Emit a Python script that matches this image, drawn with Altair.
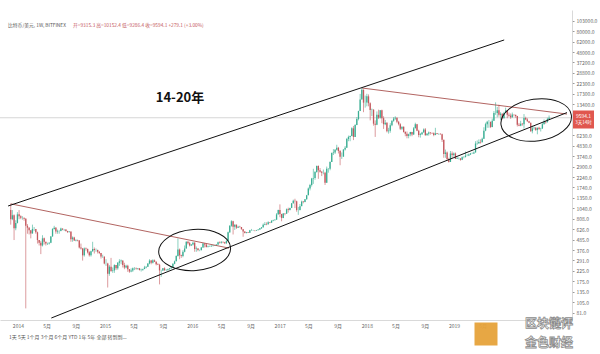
import altair as alt
import pandas as pd

# ---------------- weekly BTC/USD candles (Bitfinex) ----------------
first_open = 1000
close_2013 = [800, 880, 640, 730, 900]
high_2013 = [1165, 1000, 900, 780, 950]
low_2013 = [700, 780, 480, 610, 720]

close_2014 = [860, 830, 830, 810, 680, 650, 610, 565, 630, 630, 580, 480, 450,
              420, 500, 460, 440, 440, 450, 525, 630, 650, 590, 600, 600, 635,
              620, 620, 600, 585, 590, 490, 510, 475, 480, 475, 400, 390, 330,
              390, 385, 355, 330, 365, 385, 375, 375, 360, 350, 320, 320, 270]
high_2014 = [1000, 880, 860, 830, 820, 710, 660, 600, 700, 660, 630, 590, 480,
             470, 540, 510, 460, 450, 455, 530, 640, 680, 660, 620, 610, 650,
             640, 630, 625, 600, 595, 590, 525, 520, 490, 485, 480, 440, 395,
             400, 400, 390, 365, 370, 460, 400, 390, 380, 365, 350, 335, 320]
low_2014 = [800, 800, 790, 770, 90, 560, 550, 500, 560, 600, 560, 440, 420,
            340, 410, 430, 420, 425, 430, 445, 520, 620, 560, 560, 560, 595,
            610, 600, 590, 570, 575, 460, 460, 470, 465, 465, 390, 380, 290,
            320, 370, 345, 320, 320, 360, 345, 360, 345, 340, 305, 310, 265]

close_2015 = [270, 210, 250, 225, 228, 260, 240, 275, 285, 290, 260, 245, 255,
              235, 222, 228, 240, 240, 237, 240, 230, 232, 236, 245, 250, 270,
              290, 275, 292, 282, 265, 262, 228, 228, 240, 230, 231, 234, 240,
              245, 268, 285, 325, 380, 330, 325, 360, 390, 460, 445, 420, 430]
high_2015 = [300, 275, 260, 310, 245, 265, 260, 280, 300, 298, 290, 275, 262,
             262, 236, 240, 245, 247, 245, 242, 242, 238, 238, 255, 252, 272,
             300, 295, 300, 298, 285, 272, 268, 232, 242, 246, 236, 238, 242,
             248, 272, 290, 330, 500, 390, 335, 375, 420, 465, 470, 460, 435]
low_2015 = [255, 150, 200, 220, 215, 215, 230, 232, 255, 265, 245, 235, 240,
            220, 215, 218, 220, 230, 232, 232, 228, 222, 226, 235, 240, 248,
            265, 265, 270, 280, 258, 260, 162, 195, 225, 225, 225, 226, 234,
            237, 245, 265, 285, 320, 300, 310, 315, 355, 390, 430, 410, 415]

close_2016 = [450, 385, 390, 375, 375, 400, 440, 430, 405, 410, 410, 418, 420,
              420, 430, 455, 450, 460, 455, 445, 470, 580, 680, 760, 665, 700,
              650, 665, 660, 625, 590, 570, 580, 575, 610, 610, 610, 605, 612,
              620, 640, 655, 700, 710, 705, 740, 735, 770, 780, 790, 900, 1000]
high_2016 = [460, 455, 410, 395, 380, 405, 445, 440, 440, 420, 420, 420, 425,
             425, 432, 462, 465, 465, 460, 458, 480, 590, 690, 780, 770, 705,
             700, 680, 680, 660, 630, 595, 585, 585, 615, 630, 615, 610, 615,
             625, 645, 660, 720, 745, 740, 760, 745, 780, 790, 800, 930, 1010]
low_2016 = [420, 360, 360, 365, 365, 370, 395, 400, 400, 400, 405, 410, 410,
            415, 420, 425, 440, 440, 445, 435, 435, 520, 570, 665, 550, 615,
            630, 645, 650, 620, 520, 565, 565, 570, 570, 600, 600, 595, 600,
            605, 615, 630, 650, 690, 690, 700, 725, 730, 760, 775, 790, 890]

close_2017 = [910, 825, 920, 915, 1020, 1000, 1055, 1180, 1260, 1240, 1000, 1000, 1100,
              1230, 1220, 1300, 1440, 1700, 1850, 2170, 2200, 2540, 2950, 2650, 2550, 2500,
              2500, 1950, 2750, 2750, 3250, 4050, 4100, 4380, 4600, 4250, 3700, 3700, 4400,
              4600, 5700, 6000, 6150, 7400, 6000, 8050, 9300, 11300, 15000, 19100, 13900, 13900]
high_2017 = [1150, 910, 930, 930, 1040, 1060, 1060, 1190, 1290, 1320, 1260, 1080, 1160,
             1260, 1240, 1310, 1450, 1740, 1900, 2200, 2750, 2600, 2980, 2980, 2800, 2600,
             2700, 2550, 2900, 2800, 3300, 4100, 4450, 4450, 4950, 4700, 4350, 4100, 4450,
             4800, 5850, 6200, 6200, 7600, 7850, 8200, 9750, 11400, 17200, 19891, 19000, 16500]
low_2017 = [840, 760, 820, 880, 910, 940, 990, 1050, 1170, 1050, 960, 890, 990,
            1120, 1180, 1210, 1290, 1440, 1620, 1780, 1900, 2100, 2500, 2150, 2500, 2300,
            2400, 1850, 2250, 2500, 2650, 3300, 3850, 3950, 4300, 4000, 3000, 3500, 3700,
            4300, 4750, 5400, 5400, 6100, 5550, 6300, 8000, 9000, 11400, 15000, 11000, 12300]

close_2018 = [16200, 13700, 11600, 11700, 8300, 8100, 10300, 9600, 11500, 9500, 8200, 8500, 6900,
              7000, 8000, 8900, 9400, 9600, 8700, 8200, 7350, 7700, 6750, 6500, 6150, 6400,
              6750, 6350, 7400, 8200, 7000, 6300, 6400, 6700, 7200, 6250, 6500, 6700, 6600,
              6550, 6300, 6550, 6450, 6450, 6400, 5600, 3950, 4100, 3500, 3250, 4000, 3850, 4000]
high_2018 = [17250, 17000, 14000, 12000, 11800, 9000, 11200, 11700, 11600, 11700, 9950, 9100, 8600,
             7500, 8400, 9000, 9750, 9950, 9650, 8900, 8400, 7750, 7750, 6900, 6850, 6500,
             6800, 6800, 7650, 8500, 8250, 7150, 6600, 6800, 7400, 7450, 6600, 6850, 6700,
             6700, 6700, 7500, 6600, 6550, 6600, 6500, 5600, 4400, 4200, 3600, 4250, 4200, 4100]
low_2018 = [12700, 12700, 9000, 10000, 7900, 6000, 8000, 9300, 9400, 8400, 7300, 8000, 6700,
            6500, 6650, 7800, 8700, 9100, 8400, 7950, 7100, 7100, 6700, 6100, 5800, 5800,
            6100, 6100, 6300, 7400, 6900, 5950, 5900, 6300, 6700, 6200, 6200, 6200, 6350,
            6450, 6100, 6250, 6400, 6300, 6350, 5300, 3600, 3600, 3350, 3200, 3250, 3600, 3700]

close_2019 = [3500, 3550, 3550, 3420, 3650, 3650, 3800, 3800, 3900, 4000, 4000, 4100,
              5100, 5150, 5300, 5250, 5750, 7000, 8200, 8700, 8700, 7650, 8900, 10800, 10800,
              11500, 10300, 10600, 9500, 10800, 11500, 10300, 10100, 9700, 10400, 10300, 10000,
              8100, 7900, 8300, 8200, 9550, 9200, 8800, 8500, 6900, 7400, 7500, 7100, 7500, 7300, 7350]
high_2019 = [4100, 3700, 3650, 3550, 3720, 3750, 4200, 3950, 4000, 4050, 4100, 4200,
             5400, 5500, 5650, 5650, 5900, 7600, 8500, 8900, 9100, 8200, 9400, 11300, 14000,
             12500, 13200, 11000, 10700, 11100, 12300, 11500, 10900, 10650, 10900, 10400, 10350,
             10050, 8450, 8900, 8450, 10500, 9850, 9500, 8900, 8500, 7900, 7750, 7650, 7550, 7700, 7500]
low_2019 = [3500, 3500, 3450, 3350, 3400, 3550, 3650, 3750, 3750, 3850, 3950, 3950,
            4150, 4950, 5050, 5100, 5250, 5700, 6900, 7500, 7500, 7450, 7600, 8900, 10300,
            9700, 9850, 9100, 9200, 9450, 10900, 9500, 9800, 9350, 9600, 9900, 9600,
            7750, 7800, 7800, 7900, 7350, 9050, 8700, 8400, 6800, 6550, 7150, 6950, 6400, 7100, 6850]

close_2020 = [8200, 8700, 8600, 9315, 9594.1]
high_2020 = [8450, 9200, 8900, 9600, 10152.4]
low_2020 = [7350, 8150, 8300, 8550, 9286.4]

# annotation anchors (date, price)
upper_line = [("2013-11-21", 1105), ("2019-07-30", 64500)]
lower_line = [("2014-05-21", 71.1), ("2020-04-18", 10900)]
red_line_1 = [("2013-12-02", 1165), ("2016-06-03", 394)]
red_line_2 = [("2017-12-11", 19891), ("2020-04-18", 10500)]
ellipse_1 = ("2016-01-11", 376)
ellipse_2 = ("2019-12-11", 9082)
last_price = 9594.1

y_ticks = [81, 105, 135, 175, 225, 291, 376, 485, 626, 808, 1040, 1350, 1740, 2240,
           2900, 3740, 4830, 6230, 13400, 17300, 22300, 28800, 37200, 48000,
           62000, 80000, 103000]
x_tick_dates = ["2014-01-01", "2014-05-01", "2014-09-01", "2015-01-01", "2015-05-01",
                "2015-09-01", "2016-01-01", "2016-05-01", "2016-09-01", "2017-01-01",
                "2017-05-01", "2017-09-01", "2018-01-01", "2018-05-01", "2018-09-01",
                "2019-01-01", "2019-05-01"]

legend_label = "比特币/美元, 1W, BITFINEX"
legend_values = "开=9315.3  高=10152.4  低=9286.4  收=9594.1  +279.1 (+3.00%)"
title_text = "14-20年"
toolbar_text = "1天   5天   1个月   3个月   6个月   YTD   1年   5年   全部        转到到..."

# ---------------- build tables ----------------
def ms(s):
    return int(pd.Timestamp(s).value // 10**6)

closes = close_2013 + close_2014 + close_2015 + close_2016 + close_2017 + close_2018 + close_2019 + close_2020
highs = high_2013 + high_2014 + high_2015 + high_2016 + high_2017 + high_2018 + high_2019 + high_2020
lows = low_2013 + low_2014 + low_2015 + low_2016 + low_2017 + low_2018 + low_2019 + low_2020
n = min(len(closes), len(highs), len(lows))
closes, highs, lows = closes[:n], highs[:n], lows[:n]
opens = [first_open] + closes[:-1]
highs = [max(h, o, c) for h, o, c in zip(highs, opens, closes)]
lows = [min(l, o, c) for l, o, c in zip(lows, opens, closes)]
dates = pd.date_range("2013-12-02", periods=n, freq="7D")
df = pd.DataFrame({
    "t": [int(d.value // 10**6) for d in dates],
    "open": opens, "high": highs, "low": lows, "close": closes,
    "dir": ["up" if c >= o else "down" for o, c in zip(opens, closes)],
})

def seg_df(pairs, name):
    return pd.DataFrame({"t": [ms(d) for d, _ in pairs], "p": [p for _, p in pairs], "g": name})

black_df = pd.concat([seg_df(upper_line, "u"), seg_df(lower_line, "l")])
red_df = pd.concat([seg_df(red_line_1, "r1"), seg_df(red_line_2, "r2")])

# ---------------- scales / axes ----------------
FONT = "Noto Sans CJK SC"
xscale = alt.Scale(type="utc", domain=[ms("2013-11-08"), ms("2020-04-18")])
yscale = alt.Scale(type="log", domain=[67.7, 134380], nice=False)
xaxis = alt.Axis(values=[ms(d) for d in x_tick_dates],
                 labelExpr="utcmonth(datum.value) == 0 ? utcFormat(datum.value, '%Y') : (utcmonth(datum.value) + 1) + '月'",
                 title=None, grid=False, ticks=False, domainColor="#cfcfcf", domainWidth=0.8,
                 labelFontSize=5, labelColor="#666666", labelPadding=3, labelFont=FONT,
                 labelFlush=False, labelOverlap=False)
yaxis = alt.Axis(orient="right", values=y_ticks, format=".1f", title=None, grid=False,
                 domainColor="#cfcfcf", domainWidth=0.8, tickColor="#999999", tickSize=2,
                 labelFontSize=5, labelColor="#666666", labelPadding=2, labelFont=FONT,
                 labelFlush=False, labelOverlap=False)

def X(field="t"):
    return alt.X(f"{field}:T", scale=xscale, axis=xaxis)

def Y(field):
    return alt.Y(f"{field}:Q", scale=yscale, axis=yaxis)

UP, DOWN = "#3aae93", "#c4575d"
color = alt.Color("dir:N", scale=alt.Scale(domain=["up", "down"], range=[UP, DOWN]), legend=None)

base = alt.Chart(df)
wicks = base.mark_rule(strokeWidth=0.6).encode(x=X(), y=Y("low"), y2="high:Q", color=color)
bodies = base.mark_bar(size=1.3).encode(x=X(), y=Y("open"), y2="close:Q", color=color)

price_line = alt.Chart(pd.DataFrame({"p": [last_price]})).mark_rule(
    color="#cccccc", strokeWidth=0.8).encode(y=Y("p"))

black_lines = alt.Chart(black_df).mark_line(color="#111111", strokeWidth=1.0).encode(
    x=X(), y=Y("p"), detail="g:N")
red_lines = alt.Chart(red_df).mark_line(color="#a9524f", strokeWidth=0.9).encode(
    x=X(), y=Y("p"), detail="g:N")

def ellipse_path(r):
    k = 0.5523
    return (f"M-1,0C-1,{-k*r:.3f},{-k:.3f},{-r:.3f},0,{-r:.3f}"
            f"C{k:.3f},{-r:.3f},1,{-k*r:.3f},1,0"
            f"C1,{k*r:.3f},{k:.3f},{r:.3f},0,{r:.3f}"
            f"C{-k:.3f},{r:.3f},-1,{k*r:.3f},-1,0Z")

def ellipse_layer(anchor, width, ratio, angle):
    d = pd.DataFrame({"t": [ms(anchor[0])], "p": [anchor[1]]})
    return alt.Chart(d).mark_point(shape=ellipse_path(ratio), size=width * width, filled=False,
                                   stroke="#111111", strokeWidth=1.0, opacity=1,
                                   angle=angle).encode(x=X(), y=Y("p"))

ell1 = ellipse_layer(ellipse_1, 72, 0.57, 356)
ell2 = ellipse_layer(ellipse_2, 71, 0.59, 352)

one = pd.DataFrame({"a": [0]})

def txt(text, x, y, **kw):
    return alt.Chart(one).mark_text(text=text, font=FONT, **kw).encode(
        x=alt.value(x), y=alt.value(y))

title = txt(title_text, 180, 88, fontSize=13, fontWeight="bold", color="#111111",
            align="center", baseline="middle")
legend1 = txt(legend_label, 8, 16, fontSize=4.8, color="#555555", align="left", baseline="middle")
legend2 = txt(legend_values, 73, 16, fontSize=4.8, color="#c4575d", align="left", baseline="middle")
toolbar = txt(toolbar_text, 9, 327, fontSize=5, color="#555555", align="left", baseline="middle")

tag_df = pd.DataFrame({"p": [last_price]})
tag_box = alt.Chart(tag_df).mark_point(shape="M-1,-0.84H1V0.84H-1Z", size=19 * 19, filled=True,
                                       fill="#e0574f", stroke="#e0574f", opacity=1,
                                       yOffset=1.7).encode(x=alt.value(583.5), y=Y("p"))
tag_t1 = alt.Chart(tag_df).mark_text(text="9594.1", font=FONT, fontSize=5, color="white",
                                     yOffset=-2.2, baseline="middle").encode(x=alt.value(583.5), y=Y("p"))
tag_t2 = alt.Chart(tag_df).mark_text(text="3天14时", font=FONT, fontSize=4.5, color="white",
                                     yOffset=5.2, baseline="middle").encode(x=alt.value(583.5), y=Y("p"))

logo = alt.Chart(one).mark_point(shape="square", size=23 * 23, filled=True, fill="#e6a23a",
                                 opacity=0.95).encode(x=alt.value(486), y=alt.value(324))
wm1 = txt("区块链评", 549, 314, fontSize=12, fontWeight="bold", fill="white", stroke="#8c8c8c",
          strokeWidth=0.8, align="center", baseline="middle")
wm2 = txt("金色财经", 549, 333, fontSize=12, fontWeight="bold", fill="white", stroke="#8c8c8c",
          strokeWidth=0.8, align="center", baseline="middle")

chart = alt.layer(
    price_line, wicks, bodies, red_lines, black_lines, ell1, ell2,
    title, legend1, legend2, toolbar, tag_box, tag_t1, tag_t2, logo, wm1, wm2
).properties(
    width=572, height=310,
    padding={"left": 0, "top": 10, "right": 28, "bottom": 34},
    autosize="none", background="white"
).configure_view(stroke=None)

chart.save("out.html", embed_options={"renderer": "svg", "actions": False})
